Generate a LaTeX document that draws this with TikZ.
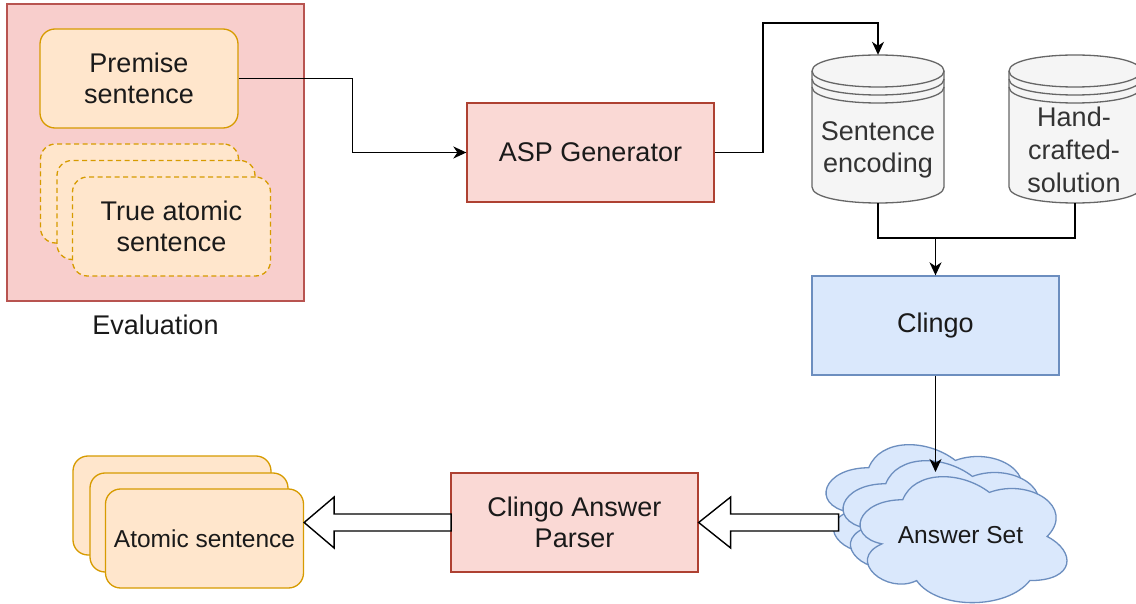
\documentclass[tikz,border=0pt]{standalone}
\usepackage{fontspec}
\setmainfont{Liberation Sans}
\usetikzlibrary{arrows.meta}
\definecolor{evalfill}{HTML}{F8CECC}
\definecolor{evaldraw}{HTML}{B85450}
\definecolor{redfill}{HTML}{FAD9D5}
\definecolor{reddraw}{HTML}{AE4132}
\definecolor{orfill}{HTML}{FFE6CC}
\definecolor{ordraw}{HTML}{D79B00}
\definecolor{grfill}{HTML}{F5F5F5}
\definecolor{grdraw}{HTML}{666666}
\definecolor{grtext}{HTML}{333333}
\definecolor{blfill}{HTML}{DAE8FC}
\definecolor{bldraw}{HTML}{6C8EBF}
\definecolor{txt}{HTML}{1A1A1A}
\newcommand{\dstore}[4]{%
  \path[dsbody] (#1,{#2+16}) -- (#1,{#2+#4-16}) .. controls (#1,{#2+#4+5.33}) and ({#1+#3},{#2+#4+5.33}) .. ({#1+#3},{#2+#4-16}) -- ({#1+#3},{#2+16}) .. controls ({#1+#3},{#2-5.33}) and (#1,{#2-5.33}) .. cycle;
  \foreach \o in {0,8,16} {\draw[dsline] (#1,{#2+16+\o}) .. controls (#1,{#2+37.33+\o}) and ({#1+#3},{#2+37.33+\o}) .. ({#1+#3},{#2+16+\o});}
}
\newcommand{\cloudshape}[2]{%
  \begin{scope}[shift={(#1,#2)}, x=231pt, y=-147pt]
    \path[cloudbody] (0.25,0.25) .. controls (0.05,0.25) and (0,0.5) .. (0.16,0.55)
      .. controls (0,0.66) and (0.18,0.9) .. (0.31,0.8)
      .. controls (0.4,1) and (0.7,1) .. (0.8,0.8)
      .. controls (1,0.8) and (1,0.6) .. (0.875,0.5)
      .. controls (1,0.3) and (0.8,0.1) .. (0.625,0.2)
      .. controls (0.5,0.05) and (0.3,0.05) .. (0.25,0.25) -- cycle;
  \end{scope}
}
\begin{document}
\begin{tikzpicture}[x=1pt, y=-1pt,
  bigfont/.style={font=\fontsize{27}{32.4}\selectfont},
  smallfont/.style={font=\fontsize{24.5}{29}\selectfont},
  procbox/.style={draw=reddraw, fill=redfill, line width=1.3pt, minimum width=247, minimum height=99, inner sep=0, align=center, bigfont, text=txt},
  bluebox/.style={draw=bldraw, fill=blfill, line width=1.3pt, minimum width=247, minimum height=99, inner sep=0, align=center, bigfont, text=txt},
  orbox/.style={draw=ordraw, fill=orfill, line width=1.3pt, rounded corners=15pt, minimum width=198, minimum height=99, inner sep=0, align=center, text=txt},
  dashbox/.style={orbox, dash pattern=on 5pt off 3.5pt},
  dsbody/.style={draw=grdraw, fill=grfill, line width=1.3pt},
  dsline/.style={draw=grdraw, line width=1.3pt},
  cloudbody/.style={draw=bldraw, fill=blfill, line width=1.3pt},
  flow/.style={draw=black, line width=1.5pt, -{Stealth[length=13pt, width=12pt, inset=4pt]}},
  plainline/.style={draw=black, line width=1.5pt},
  block/.style={draw=black, fill=white, line width=1.4pt, line join=miter}]
\useasboundingbox (0,0) rectangle (1136,604);
\clip (0,0) rectangle (1136,604);
\fill[white] (0,0) rectangle (1136,604);

% Evaluation group
\node[draw=evaldraw, fill=evalfill, line width=1.3pt, minimum width=297, minimum height=297, inner sep=0] (eval) at (155.5,152.5) {};
\node[bigfont, text=txt] (evallabel) at (155.5,325) {Evaluation};
\node[orbox, bigfont] (prem) at (139,78.5) {Premise\\[-1pt]sentence};
\node[dashbox] (true3) at (139.5,193.5) {};
\node[dashbox] (true2) at (156,210) {};
\node[dashbox, bigfont] (true1) at (171.5,226.5) {True atomic\\[-1pt]sentence};

% ASP generator
\node[procbox] (asp) at (590.5,152.5) {ASP Generator};

% Data stores
\dstore{812}{55}{132}{148}
\dstore{1009}{55}{132}{148}
\node[inner sep=0, minimum width=132, minimum height=148] (se) at (878,129) {};
\node[inner sep=0, minimum width=132, minimum height=148] (hc) at (1075,129) {};
\node[bigfont, text=grtext, align=center] (setxt) at (878,150) {Sentence\\encoding};
\node[font=\fontsize{27}{33}\selectfont, text=grtext, align=center] (hctxt) at (1074,150) {Hand-\\crafted-\\solution};

% Clingo
\node[bluebox] (clingo) at (935.5,325.5) {Clingo};

% Answer set clouds
\cloudshape{811}{431}
\cloudshape{828}{447}
\cloudshape{845}{463}
\node[smallfont, text=txt] (ans) at (960.5,535) {Answer Set};
\coordinate (anstop) at (935.5,472);

% Parser
\node[procbox] (parser) at (574.5,522.5) {Clingo Answer\\[-1pt]Parser};

% Atomic sentence stack
\node[orbox] (atom3) at (172,505.5) {};
\node[orbox] (atom2) at (189,522.5) {};
\node[orbox, smallfont] (atom1) at (204.5,538.5) {Atomic sentence};

% Connectors
\draw[flow] (prem.east) -- ++(114,0) |- (asp.west);
\coordinate (aspturn) at (763,23);
\draw[flow] (asp.east) -| (aspturn) -| (se.north);
\coordinate (join) at (935.5,238);
\draw[plainline] (se.south) |- (join) -| (hc.south);
\draw[flow] (join) -- (clingo.north);
\draw[flow] (clingo.south) -- (clingo.south |- anstop);

% Block arrows
\draw[block] (parser.east) -- ++(32,-25.5) -- ++(0,17) -- ++(108,0) -- ++(0,17) -- ++(-108,0) -- ++(0,17) -- cycle;
\draw[block] (atom1.east |- parser.west) -- ++(30,-25.5) -- ++(0,17) -- ++(117,0) -- ++(0,17) -- ++(-117,0) -- ++(0,17) -- cycle;
\end{tikzpicture}
\end{document}
